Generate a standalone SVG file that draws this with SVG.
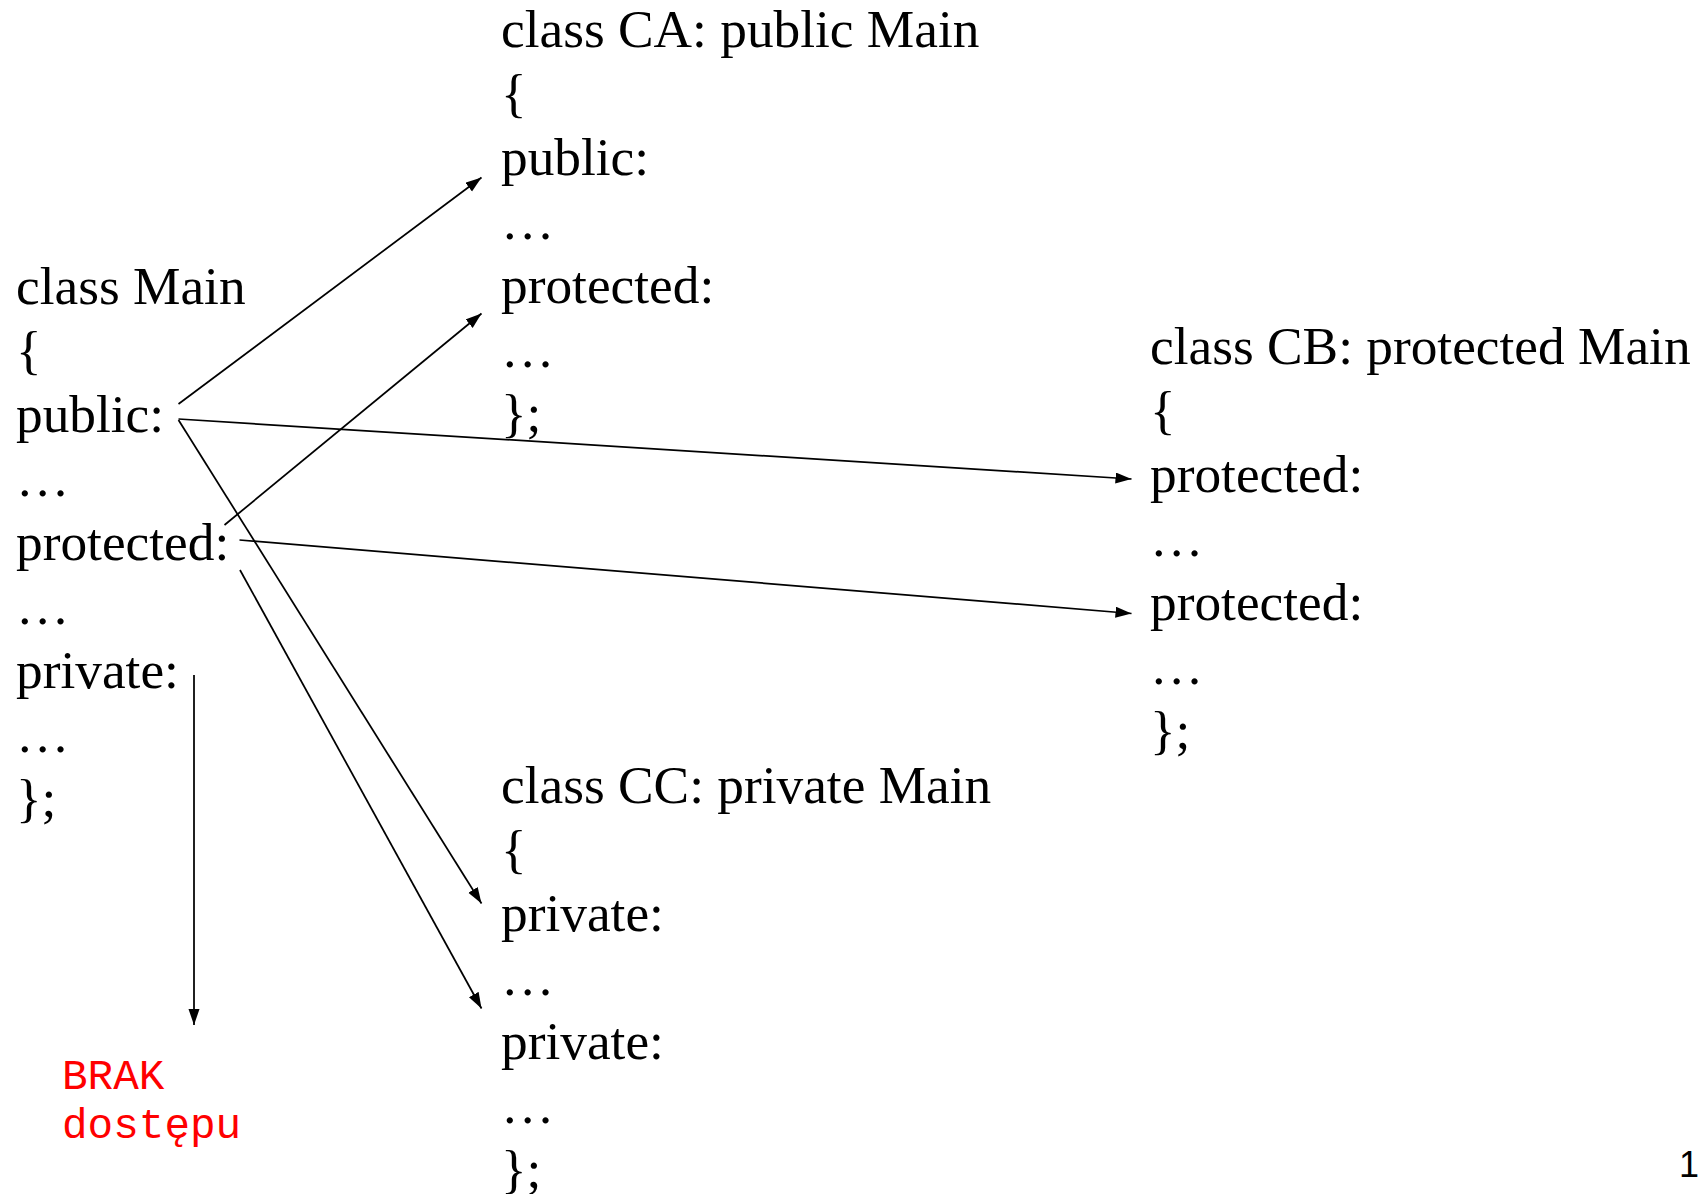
<svg xmlns="http://www.w3.org/2000/svg" width="1702" height="1194" viewBox="0 0 1702 1194">
<style>
  .code { font-family: "Liberation Serif", "Times New Roman", serif; font-size: 53.33px; fill: #000; }
  .red { font-family: "Liberation Mono", "Courier New", monospace; font-size: 42.67px; fill: #FF0000; }
  .num { font-family: "Liberation Sans", Arial, sans-serif; font-size: 36px; fill: #000; }
  .conn { stroke: #000; stroke-width: 1.75; fill: none; marker-end: url(#arrow); }
</style>
<defs>
  <marker id="arrow" markerUnits="userSpaceOnUse" markerWidth="18" markerHeight="12" refX="16" refY="5.5" orient="auto">
    <path d="M0,0 L16,5.5 L0,11 z" fill="#000"/>
  </marker>
</defs>
<rect width="1702" height="1194" fill="#fff"/>

<g id="main">
  <text class="code" x="16" y="304">class Main</text>
  <text class="code" x="16" y="368">{</text>
  <text class="code" x="16" y="432">public:</text>
  <text class="code" x="16" y="496">…</text>
  <text class="code" x="16" y="560">protected:</text>
  <text class="code" x="16" y="624">…</text>
  <text class="code" x="16" y="688">private:</text>
  <text class="code" x="16" y="752">…</text>
  <text class="code" x="16" y="816">};</text>
</g>

<g id="ca">
  <text class="code" x="501" y="47">class CA: public Main</text>
  <text class="code" x="501" y="111">{</text>
  <text class="code" x="501" y="175">public:</text>
  <text class="code" x="501" y="239">…</text>
  <text class="code" x="501" y="303">protected:</text>
  <text class="code" x="501" y="367">…</text>
  <text class="code" x="501" y="431">};</text>
</g>

<g id="cb">
  <text class="code" x="1150" y="363.5">class CB: protected Main</text>
  <text class="code" x="1150" y="427.5">{</text>
  <text class="code" x="1150" y="491.5">protected:</text>
  <text class="code" x="1150" y="555.5">…</text>
  <text class="code" x="1150" y="619.5">protected:</text>
  <text class="code" x="1150" y="683.5">…</text>
  <text class="code" x="1150" y="747.5">};</text>
</g>

<g id="cc">
  <text class="code" x="501" y="802.5">class CC: private Main</text>
  <text class="code" x="501" y="866.5">{</text>
  <text class="code" x="501" y="930.5">private:</text>
  <text class="code" x="501" y="994.5">…</text>
  <text class="code" x="501" y="1058.5">private:</text>
  <text class="code" x="501" y="1122.5">…</text>
  <text class="code" x="501" y="1186.5">};</text>
</g>

<g id="brak">
  <text class="red" x="62" y="1089">BRAK</text>
  <text class="red" x="62" y="1138">dostępu</text>
</g>

<g id="page-number">
  <text class="num" x="1679" y="1177">1</text>
</g>

<g id="connectors">
  <line class="conn" x1="178.5" y1="404" x2="481.5" y2="177.5"/>
  <line class="conn" x1="224.5" y1="525" x2="481.5" y2="313.5"/>
  <line class="conn" x1="178.5" y1="419" x2="1131.5" y2="479"/>
  <line class="conn" x1="239.5" y1="540" x2="1131.5" y2="613.5"/>
  <line class="conn" x1="178.5" y1="420" x2="481.5" y2="903.5"/>
  <line class="conn" x1="240" y1="570" x2="481.5" y2="1008.5"/>
  <line class="conn" x1="194" y1="675" x2="194" y2="1025"/>
</g>
</svg>
